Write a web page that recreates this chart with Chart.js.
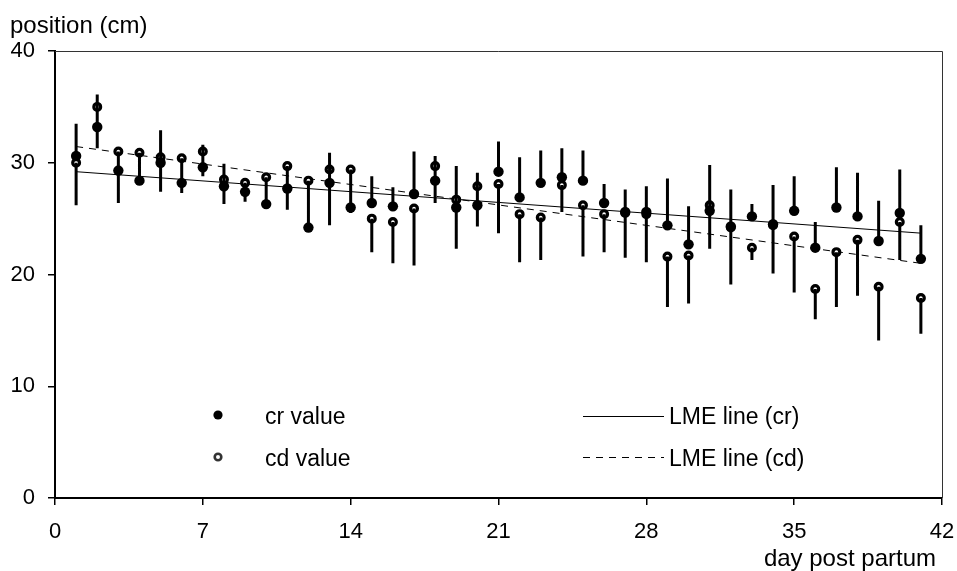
<!DOCTYPE html>
<html>
<head>
<meta charset="utf-8">
<title>position by day post partum</title>
<script src="https://cdn.jsdelivr.net/npm/chart.js@4.4.1/dist/chart.umd.min.js"></script>
<style>
  body { margin: 0; background: #fff; }
  canvas { display: block; }
</style>
</head>
<body>
<canvas id="myChart" width="957" height="571"></canvas>
<script>
const days = [1, 2, 3, 4, 5, 6, 7, 8, 9, 10, 11, 12, 13, 14, 15, 16, 17, 18, 19, 20,
  21, 22, 23, 24, 25, 26, 27, 28, 29, 30, 31, 32, 33, 34, 35, 36, 37, 38, 39, 40, 41];

// cr: mean and top of its (upper) bar
const crValues = [30.6, 33.2, 29.3, 28.4, 30.0, 28.2, 29.6, 27.9, 27.4, 26.3,
  27.7, 24.2, 28.2, 26.0, 26.4, 26.1, 27.2, 28.4, 26.0, 26.2,
  29.2, 26.9, 28.2, 28.7, 28.4, 26.4, 25.6, 25.6, 24.4, 22.7,
  25.7, 24.3, 25.2, 24.5, 25.7, 22.4, 26.0, 25.2, 23.0, 25.5, 21.4];
const crUpper = [33.5, 36.1, 30.9, 30.6, 32.9, 30.2, 31.6, 29.9, 28.2, 28.5,
  29.7, 28.2, 30.9, 29.2, 28.8, 27.8, 31.0, 30.6, 29.7, 29.1,
  31.9, 30.5, 31.1, 31.3, 31.1, 28.1, 27.6, 27.9, 28.6, 26.1,
  29.8, 27.6, 26.3, 28.0, 28.8, 24.7, 29.6, 29.1, 26.6, 29.4, 24.4];

// cd: mean and bottom of its (lower) bar
const cdValues = [30.0, 35.0, 31.0, 30.9, 30.5, 30.4, 31.0, 28.5, 28.2, 28.7,
  29.7, 28.4, 29.4, 29.4, 25.0, 24.7, 25.9, 29.7, 26.7, 27.9,
  28.1, 25.4, 25.1, 28.0, 26.2, 25.4, 25.5, 25.4, 21.6, 21.7,
  26.2, 24.2, 22.4, 24.4, 23.4, 18.7, 22.0, 23.1, 18.9, 24.7, 17.9];
const cdLower = [26.2, 31.3, 26.4, 28.4, 27.4, 27.3, 28.8, 26.3, 26.5, 26.4,
  25.8, 24.3, 24.4, 25.5, 22.0, 21.0, 20.8, 26.4, 22.3, 24.3,
  23.7, 21.1, 21.3, 25.6, 21.6, 22.0, 21.5, 21.1, 17.1, 17.4,
  22.3, 19.1, 21.3, 20.1, 18.4, 16.0, 17.1, 18.1, 14.1, 21.3, 14.7];

// fitted LME lines, end points
const lmeDays = [1, 41];
const lmeCr = [29.2, 23.7];
const lmeCd = [31.45, 21.0];

const xTicks = [0, 7, 14, 21, 28, 35, 42];
const yTicks = [0, 10, 20, 30, 40];

const FONT = '"Liberation Sans", Arial, sans-serif';
Chart.defaults.font.family = FONT;
Chart.defaults.color = '#000';

function toPoints(xs, ys) {
  return xs.map((v, i) => ({ x: v, y: ys[i] }));
}

// vertical one-sided bars: cr goes up, cd goes down
const errorBars = {
  id: 'errorBars',
  afterDatasetsDraw(chart) {
    const { ctx, scales: { x, y } } = chart;
    ctx.save();
    ctx.strokeStyle = '#000';
    ctx.lineWidth = 3;
    ctx.beginPath();
    days.forEach((d, i) => {
      const px = x.getPixelForValue(d);
      ctx.moveTo(px, y.getPixelForValue(crValues[i]));
      ctx.lineTo(px, y.getPixelForValue(crUpper[i]));
      ctx.moveTo(px, y.getPixelForValue(cdValues[i]));
      ctx.lineTo(px, y.getPixelForValue(cdLower[i]));
    });
    ctx.stroke();
    ctx.restore();
  }
};

// frame, axis titles and the legend inside the plot
const extras = {
  id: 'extras',
  afterDraw(chart) {
    const { ctx, chartArea: a } = chart;
    ctx.save();

    ctx.strokeStyle = '#333';
    ctx.lineWidth = 1;
    ctx.beginPath();
    ctx.moveTo(a.left, a.top + 0.5);
    ctx.lineTo(a.right + 0.5, a.top + 0.5);
    ctx.lineTo(a.right + 0.5, a.bottom);
    ctx.stroke();

    ctx.fillStyle = '#000';
    ctx.font = '24px ' + FONT;
    ctx.textBaseline = 'alphabetic';
    ctx.textAlign = 'left';
    ctx.fillText('position (cm)', 10, 33);
    ctx.textAlign = 'right';
    ctx.fillText('day post partum', 936, 566);

    ctx.font = '23px ' + FONT;
    ctx.textAlign = 'left';
    ctx.fillText('cr value', 265, 424);
    ctx.fillText('cd value', 265, 466);
    ctx.fillText('LME line (cr)', 669, 424);
    ctx.fillText('LME line (cd)', 669, 466);

    ctx.beginPath();
    ctx.arc(218, 415, 4.6, 0, Math.PI * 2);
    ctx.fill();
    ctx.beginPath();
    ctx.lineWidth = 2.6;
    ctx.arc(218, 457, 3.3, 0, Math.PI * 2);
    ctx.stroke();

    ctx.strokeStyle = '#000';
    ctx.lineWidth = 1;
    ctx.beginPath();
    ctx.moveTo(583, 416.5);
    ctx.lineTo(664, 416.5);
    ctx.stroke();
    ctx.setLineDash([7, 6]);
    ctx.beginPath();
    ctx.moveTo(583, 457.5);
    ctx.lineTo(664, 457.5);
    ctx.stroke();

    ctx.restore();
  }
};

const ctx = document.getElementById('myChart').getContext('2d');

new Chart(ctx, {
  type: 'scatter',
  data: {
    datasets: [
      {
        label: 'cr value',
        data: toPoints(days, crValues),
        pointRadius: 5.2,
        pointHoverRadius: 5.2,
        pointBackgroundColor: '#000',
        pointBorderWidth: 0
      },
      {
        label: 'cd value',
        data: toPoints(days, cdValues),
        pointRadius: 3.4,
        pointHoverRadius: 3.4,
        pointBackgroundColor: '#fff',
        pointBorderColor: '#000',
        pointBorderWidth: 3.2
      },
      {
        label: 'LME line (cr)',
        data: toPoints(lmeDays, lmeCr),
        showLine: true,
        borderColor: '#000',
        borderWidth: 1,
        pointRadius: 0
      },
      {
        label: 'LME line (cd)',
        data: toPoints(lmeDays, lmeCd),
        showLine: true,
        borderColor: '#000',
        borderWidth: 1,
        borderDash: [7, 6],
        pointRadius: 0
      }
    ]
  },
  options: {
    responsive: false,
    animation: false,
    layout: { padding: { left: 0, top: 51, right: 15, bottom: 0 } },
    plugins: {
      legend: { display: false },
      tooltip: { enabled: false }
    },
    scales: {
      x: {
        type: 'linear',
        min: 0,
        max: 42,
        afterBuildTicks: (scale) => { scale.ticks = xTicks.map(v => ({ value: v })); },
        afterFit: (scale) => {
          scale.height = 73;
          scale.paddingLeft = 0;
          scale.paddingRight = 0;
        },
        border: { display: true, color: '#000', width: 2 },
        grid: { drawOnChartArea: false, drawTicks: true, tickLength: 7, color: '#000', lineWidth: 1.5 },
        ticks: { font: { size: 22 }, padding: 14, maxRotation: 0 }
      },
      y: {
        min: 0,
        max: 40,
        afterBuildTicks: (scale) => { scale.ticks = yTicks.map(v => ({ value: v })); },
        afterFit: (scale) => { scale.width = 55; },
        border: { display: true, color: '#000', width: 2 },
        grid: { drawOnChartArea: false, drawTicks: true, tickLength: 7, color: '#000', lineWidth: 1.5 },
        ticks: { font: { size: 22 }, padding: 13 }
      }
    }
  },
  plugins: [errorBars, extras]
});
</script>
</body>
</html>
